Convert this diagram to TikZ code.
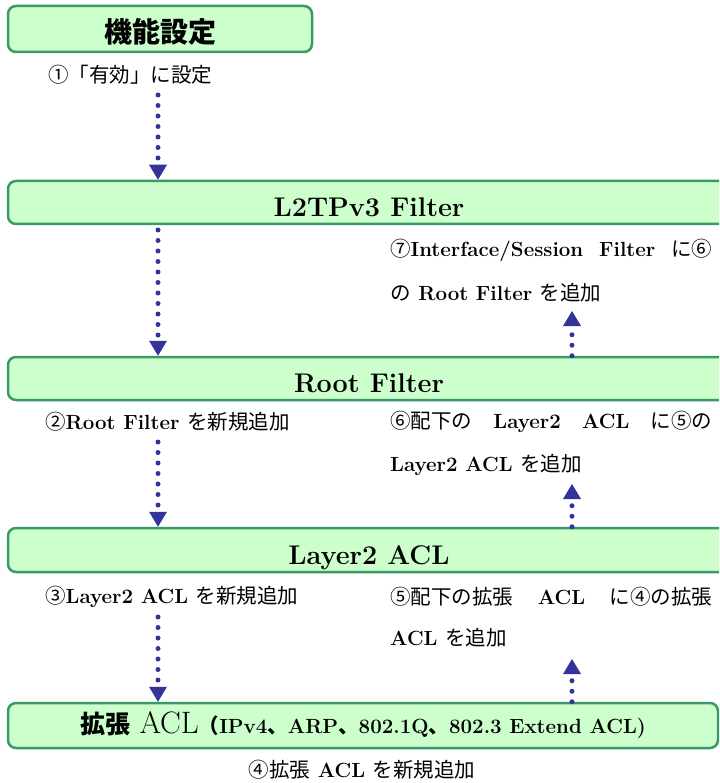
\documentclass[tikz,border=0pt]{standalone}
\usepackage{fontspec}
\newfontfamily\jp{Noto Sans CJK JP}
\definecolor{boxfill}{HTML}{CCFFCC}
\definecolor{boxline}{HTML}{3A9A66}
\definecolor{flowblue}{HTML}{333399}
\usetikzlibrary{arrows.meta, positioning}

\begin{document}
\begin{tikzpicture}[x=1pt, y=-1pt,
	box/.style={draw=boxline, fill=boxfill, line width=2.5pt, rounded corners=8pt, minimum height=43pt, inner sep=0pt, font=\fontsize{27}{30}\selectfont\bfseries},
	title/.style={box, minimum width=722pt, text height=28pt, text depth=0pt},
	lbl/.style={anchor=west, inner sep=0pt, font=\fontsize{20.5}{24}\selectfont\bfseries},
	flow/.style={color=flowblue, line width=5pt, line cap=round, dash pattern=on 0pt off 10.5pt, -{Triangle[width=18pt, length=15pt, line width=0pt]}}
	]
	\useasboundingbox (0,0) rectangle (719,783);
	\clip (0,0) rectangle (719,783);

	\node[box, minimum width=304pt, minimum height=46pt, text height=27pt, text depth=0pt, font=\fontsize{28}{30}\selectfont\jp\bfseries] (func) at (160,29) {機能設定};
	\node[title] (l2tp) at (369,202.5) {L2TPv3 Filter};
	\node[title] (root) at (369,378.5) {Root Filter};
	\node[title, minimum height=44pt] (layer2) at (369,550) {Layer2 ACL};
	\node[box, minimum width=710pt, minimum height=45pt, font=\fontsize{31}{34}\selectfont\mdseries] (ext) at (363,725.5)
		{{\fontsize{25}{30}\selectfont\jp\bfseries 拡張} ACL{\fontsize{20.5}{24}\selectfont\bfseries{\jp （}IPv4{\jp 、}ARP{\jp 、}802.1Q{\jp 、}802.3 Extend ACL)}};

	\node[lbl] (s1) at (48,75) {\jp\mdseries ①「有効」に設定};
	\node[lbl] (s2) at (45,422) {{\jp\mdseries ②}Root Filter {\jp\mdseries を新規追加}};
	\node[lbl] (s3) at (45,597) {{\jp\mdseries ③}Layer2 ACL {\jp\mdseries を新規追加}};
	\node[lbl, anchor=center] (s4) at (362,770) {{\jp\mdseries ④拡張} ACL {\jp\mdseries を新規追加}};

	\node[lbl] (s7a) at (390,250) {\makebox[322pt][s]{{\jp\mdseries ⑦}Interface/Session Filter {\jp\mdseries に⑥}}};
	\node[lbl] (s7b) at (390,293) {{\jp\mdseries の} Root Filter {\jp\mdseries を追加}};
	\node[lbl] (s6a) at (390,422) {\makebox[322pt][s]{{\jp\mdseries ⑥配下の} Layer2 ACL {\jp\mdseries に⑤の}}};
	\node[lbl] (s6b) at (390,465) {Layer2 ACL {\jp\mdseries を追加}};
	\node[lbl] (s5a) at (390,597) {\makebox[322pt][s]{{\jp\mdseries ⑤配下の拡張} ACL {\jp\mdseries に④の拡張}}};
	\node[lbl] (s5b) at (390,638) {ACL {\jp\mdseries を追加}};

	\coordinate (d1) at (158,95);
	\coordinate (d2) at (158,230);
	\coordinate (d3) at (158,442);
	\coordinate (d4) at (158,617);
	\coordinate (u1) at (572,311);
	\coordinate (u2) at (572,484);
	\coordinate (u3) at (572,659);

	\draw[flow] (d1) -- (d1 |- l2tp.north);
	\draw[flow] (d2) -- (d2 |- root.north);
	\draw[flow] (d3) -- (d3 |- layer2.north);
	\draw[flow] (d4) -- (d4 |- ext.north);
	\draw[flow] (u1 |- root.north) -- (u1);
	\draw[flow] (u2 |- layer2.north) -- (u2);
	\draw[flow] (u3 |- ext.north) -- (u3);
\end{tikzpicture}
\end{document}
